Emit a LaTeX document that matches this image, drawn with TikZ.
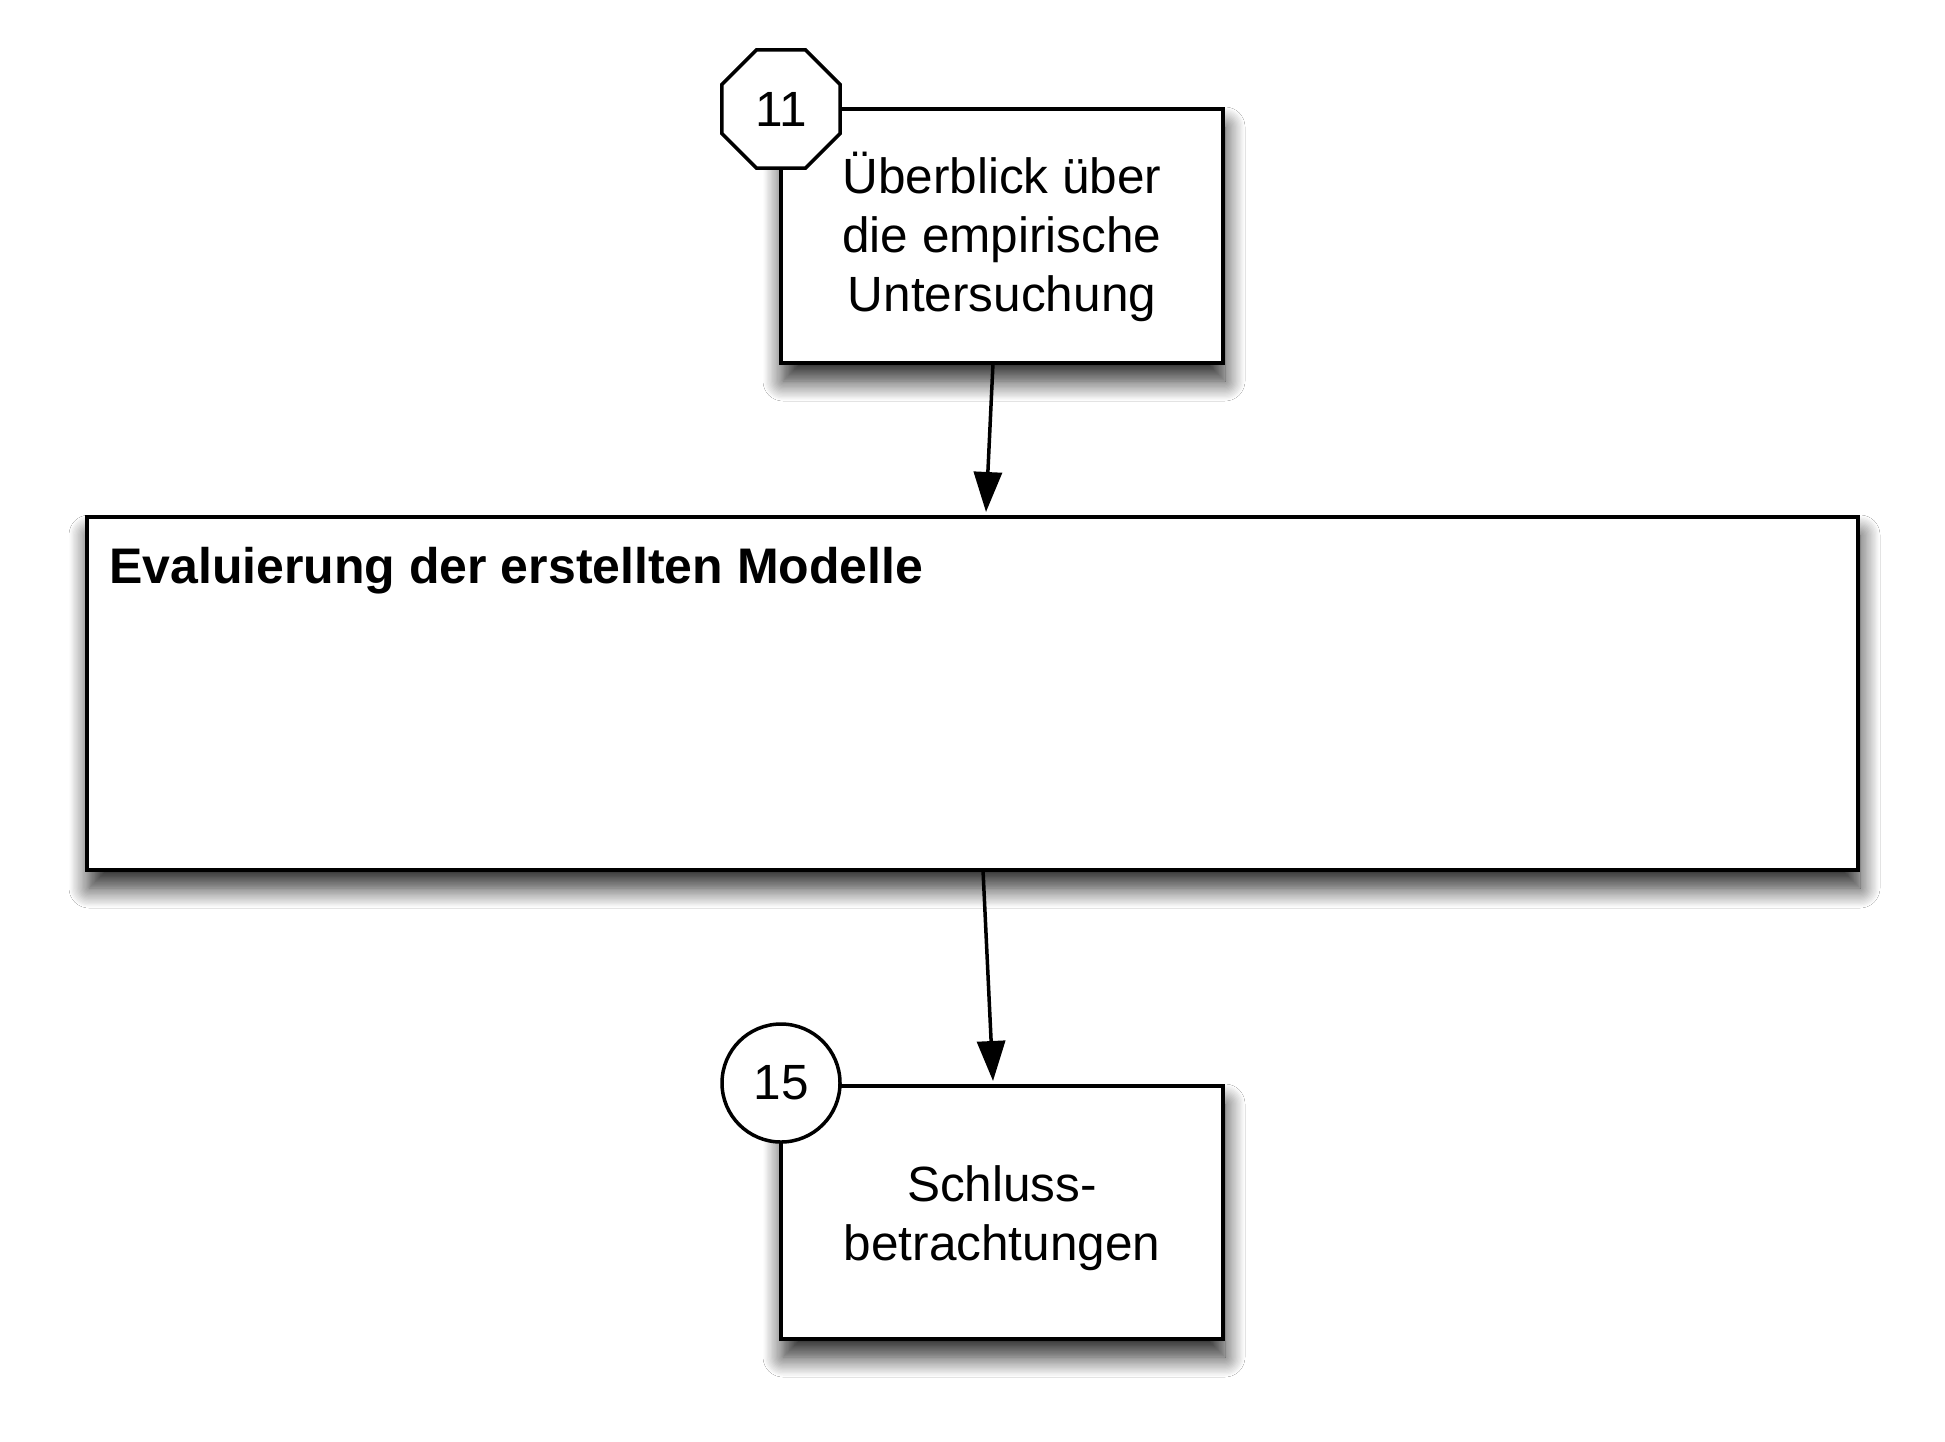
\documentclass[tikz,border=0pt]{standalone}
\usepackage{fontspec}
\setmainfont{Liberation Sans}
\usetikzlibrary{arrows.meta,shapes.geometric,shadows.blur,calc}
\tikzset{
  boxstyle/.style={draw, line width=3.5pt, fill=white, inner sep=0pt, outer sep=0pt, align=center,
    font=\fontsize{49.5pt}{59pt}\selectfont,
    blur shadow={shadow xshift=2pt, shadow yshift=-18pt, shadow blur radius=20pt, shadow blur steps=16, shadow opacity=85}},
  numstyle/.style={draw, line width=3.5pt, fill=white, inner sep=0pt, outer sep=0pt,
    font=\fontsize{49.5pt}{59pt}\selectfont},
  labelstyle/.style={inner sep=0pt, align=center, font=\fontsize{49.5pt}{59pt}\selectfont},
  arr/.style={line width=3.5pt, -{Triangle[length=40pt,width=28pt]}},
}
\begin{document}
\begin{tikzpicture}[x=1pt,y=-1pt]
\useasboundingbox[fill=white] (0,0) rectangle (1945,1441);
\node[boxstyle, minimum width=442pt, minimum height=254pt] (top) at (1002,236) {};
\node[labelstyle] (toptext) at ($(top.center)+(0,1)$) {Überblick über\\die empirische\\Untersuchung};
\node[boxstyle, minimum width=1771pt, minimum height=353pt] (big) at (972.5,693.5) {};
\node[anchor=base west, inner sep=0pt, font=\bfseries\fontsize{50pt}{59pt}\selectfont] (title) at ($(big.north west)+(22,66)$) {Evaluierung der erstellten Modelle};
\node[boxstyle, minimum width=442pt, minimum height=253pt] (bot) at (1002,1212.5) {};
\node[labelstyle] (bottext) at ($(bot.center)+(0,6)$) {Schluss-\\betrachtungen};
\node[numstyle, regular polygon, regular polygon sides=8, minimum size=128pt] (n11) at (top.north west) {11};
\node[numstyle, circle, minimum size=118pt] (n15) at ($(bot.north west)+(0,-3)$) {15};
\draw[arr] ([xshift=-9pt]top.south) -- ([xshift=13.5pt,yshift=5pt]big.north);
\draw[arr] ([xshift=10.5pt]big.south) -- ([xshift=-9pt,yshift=5pt]bot.north);
\end{tikzpicture}
\end{document}
